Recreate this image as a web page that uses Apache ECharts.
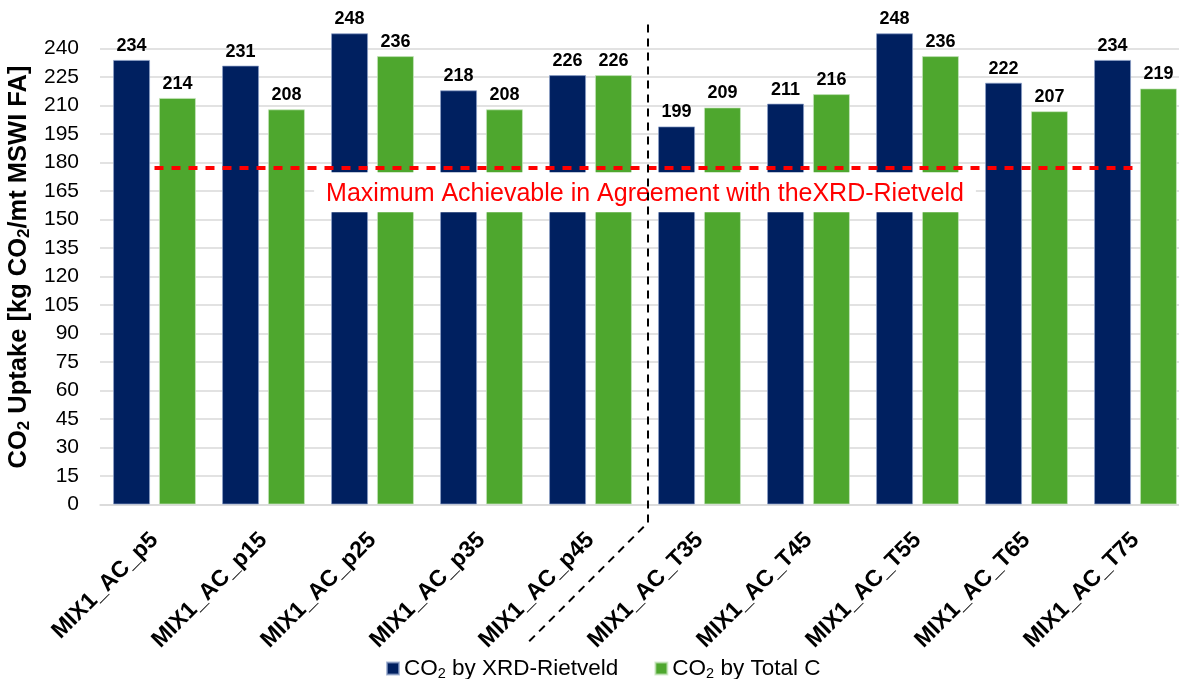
<!DOCTYPE html>
<html>
<head>
<meta charset="utf-8">
<script src="https://cdn.jsdelivr.net/npm/echarts@6/dist/echarts.min.js"></script>
<style>
  html, body { margin: 0; padding: 0; background: #fff; }
  #chart { width: 1179px; height: 679px; }
</style>
</head>
<body>
<div id="chart"></div>
<script>
// Sample names (x axis)
const categories = ['MIX1_AC_p5', 'MIX1_AC_p15', 'MIX1_AC_p25', 'MIX1_AC_p35', 'MIX1_AC_p45',
                    'MIX1_AC_T35', 'MIX1_AC_T45', 'MIX1_AC_T55', 'MIX1_AC_T65', 'MIX1_AC_T75'];
// CO2 uptake, kg CO2 per mt MSWI FA
const xrdRietveld = [234, 231, 248, 218, 226, 199, 211, 248, 222, 234];
const totalC      = [214, 208, 236, 208, 226, 209, 216, 236, 207, 219];
// Upper bound consistent with the XRD-Rietveld phase analysis
const maxAchievable = 177;
const maxLabel = 'Maximum Achievable in Agreement with theXRD-Rietveld';
// y axis ticks
const yMin = 0, yMax = 250, yStep = 15;
// the p-series / T-series split falls between these two samples
const splitAfter = 'MIX1_AC_p45', splitBefore = 'MIX1_AC_T35';

const FONT = '"Liberation Sans", Arial, sans-serif';
const NAVY = '#002060';
const GREEN = '#4EA72E';

const legendText = {
  'CO2 by XRD-Rietveld': '{n|CO}{s|2}{n| by XRD-Rietveld}',
  'CO2 by Total C': '{n|CO}{s|2}{n| by Total C}'
};

const chart = echarts.init(document.getElementById('chart'), null, { renderer: 'canvas' });

const valueLabel = {
  show: true,
  position: 'top',
  distance: 5,
  color: '#000',
  fontFamily: FONT,
  fontWeight: 'bold',
  fontSize: 18
};

chart.setOption({
  animation: false,
  backgroundColor: '#fff',
  // the plot runs slightly past the right edge of the canvas
  grid: { left: 100, width: 1090, top: 29.5, bottom: 174.5, outerBoundsMode: 'none', containLabel: false },
  legend: {
    top: 652,
    left: 381,
    itemWidth: 12,
    itemHeight: 12,
    itemGap: 36,
    icon: 'rect',
    data: ['CO2 by XRD-Rietveld', 'CO2 by Total C'],
    formatter: name => legendText[name],
    textStyle: {
      fontFamily: FONT,
      color: '#000',
      rich: {
        n: { fontFamily: FONT, fontSize: 22.5, color: '#000', lineHeight: 26 },
        s: { fontFamily: FONT, fontSize: 14.5, color: '#000', lineHeight: 12, verticalAlign: 'bottom' }
      }
    }
  },
  xAxis: {
    type: 'category',
    data: categories,
    axisLine: { show: true, lineStyle: { color: '#d9d9d9', width: 1.5 } },
    axisTick: { show: false },
    axisLabel: {
      interval: 0,
      rotate: 45,
      margin: 32,
      color: '#000',
      fontFamily: FONT,
      fontWeight: 'bold',
      fontSize: 23
    }
  },
  yAxis: {
    type: 'value',
    min: yMin,
    max: yMax,
    interval: yStep,
    axisLine: { show: false },
    axisTick: { show: false },
    splitLine: { show: true, showMaxLine: false, lineStyle: { color: '#d9d9d9', width: 1.5 } },
    axisLabel: {
      showMaxLabel: false,
      margin: 21,
      color: '#000',
      fontFamily: FONT,
      fontSize: 21
    },
    name: '{b|CO}{s|2}{b| Uptake [kg CO}{s|2}{b|/mt MSWI FA]}',
    nameLocation: 'middle',
    nameRotate: 90,
    nameGap: 56,
    nameTextStyle: {
      rich: {
        b: { fontFamily: FONT, fontWeight: 'bold', fontSize: 25.5, color: '#000', lineHeight: 29 },
        s: { fontFamily: FONT, fontWeight: 'bold', fontSize: 17, color: '#000', lineHeight: 13, verticalAlign: 'bottom' }
      }
    }
  },
  series: [
    {
      name: 'CO2 by XRD-Rietveld',
      type: 'bar',
      data: xrdRietveld,
      barWidth: 37,
      barGap: '24%',
      itemStyle: { color: NAVY, borderColor: 'rgba(140,160,200,0.7)', borderWidth: 1 },
      label: valueLabel
    },
    {
      name: 'CO2 by Total C',
      type: 'bar',
      data: totalC,
      barWidth: 37,
      barGap: '24%',
      itemStyle: { color: GREEN, borderColor: 'rgba(200,230,190,0.7)', borderWidth: 1 },
      label: valueLabel
    },
    {
      // carrier for the reference line, anchored at category centres
      name: 'limit',
      type: 'line',
      data: [],
      silent: true,
      markLine: {
        silent: true,
        symbol: 'none',
        z: 10,
        lineStyle: { color: '#ff0000', type: [9, 8], width: 4 },
        label: {
          show: true,
          position: 'insideMiddleBottom',
          distance: 4,
          formatter: maxLabel,
          color: '#ff0000',
          fontFamily: FONT,
          fontSize: 25,
          backgroundColor: '#fff',
          padding: [9, 12, 6, 12]
        },
        data: [[
          { coord: [categories[0], maxAchievable] },
          { coord: [categories[categories.length - 1], maxAchievable] }
        ]]
      }
    }
  ]
});

// Dashed divider between the pressure and temperature series, drawn on the chart's own scale
function drawDivider() {
  const xa = chart.convertToPixel({ xAxisIndex: 0 }, splitAfter);
  const xb = chart.convertToPixel({ xAxisIndex: 0 }, splitBefore);
  const xs = (xa + xb) / 2 + 3;
  const yTop = chart.convertToPixel({ yAxisIndex: 0 }, yMax) - 5;
  const yBase = chart.convertToPixel({ yAxisIndex: 0 }, yMin);
  const yKink = yBase + 18;
  const run = 123;
  const dash = { stroke: '#000', lineWidth: 2, lineDash: [8, 6] };
  chart.setOption({
    graphic: [
      { type: 'polyline', silent: true, z: 20,
        shape: { points: [[xs, yTop], [xs, yKink], [xs - run, yKink + run]] },
        style: dash }
    ]
  });
}
drawDivider();
</script>
</body>
</html>
